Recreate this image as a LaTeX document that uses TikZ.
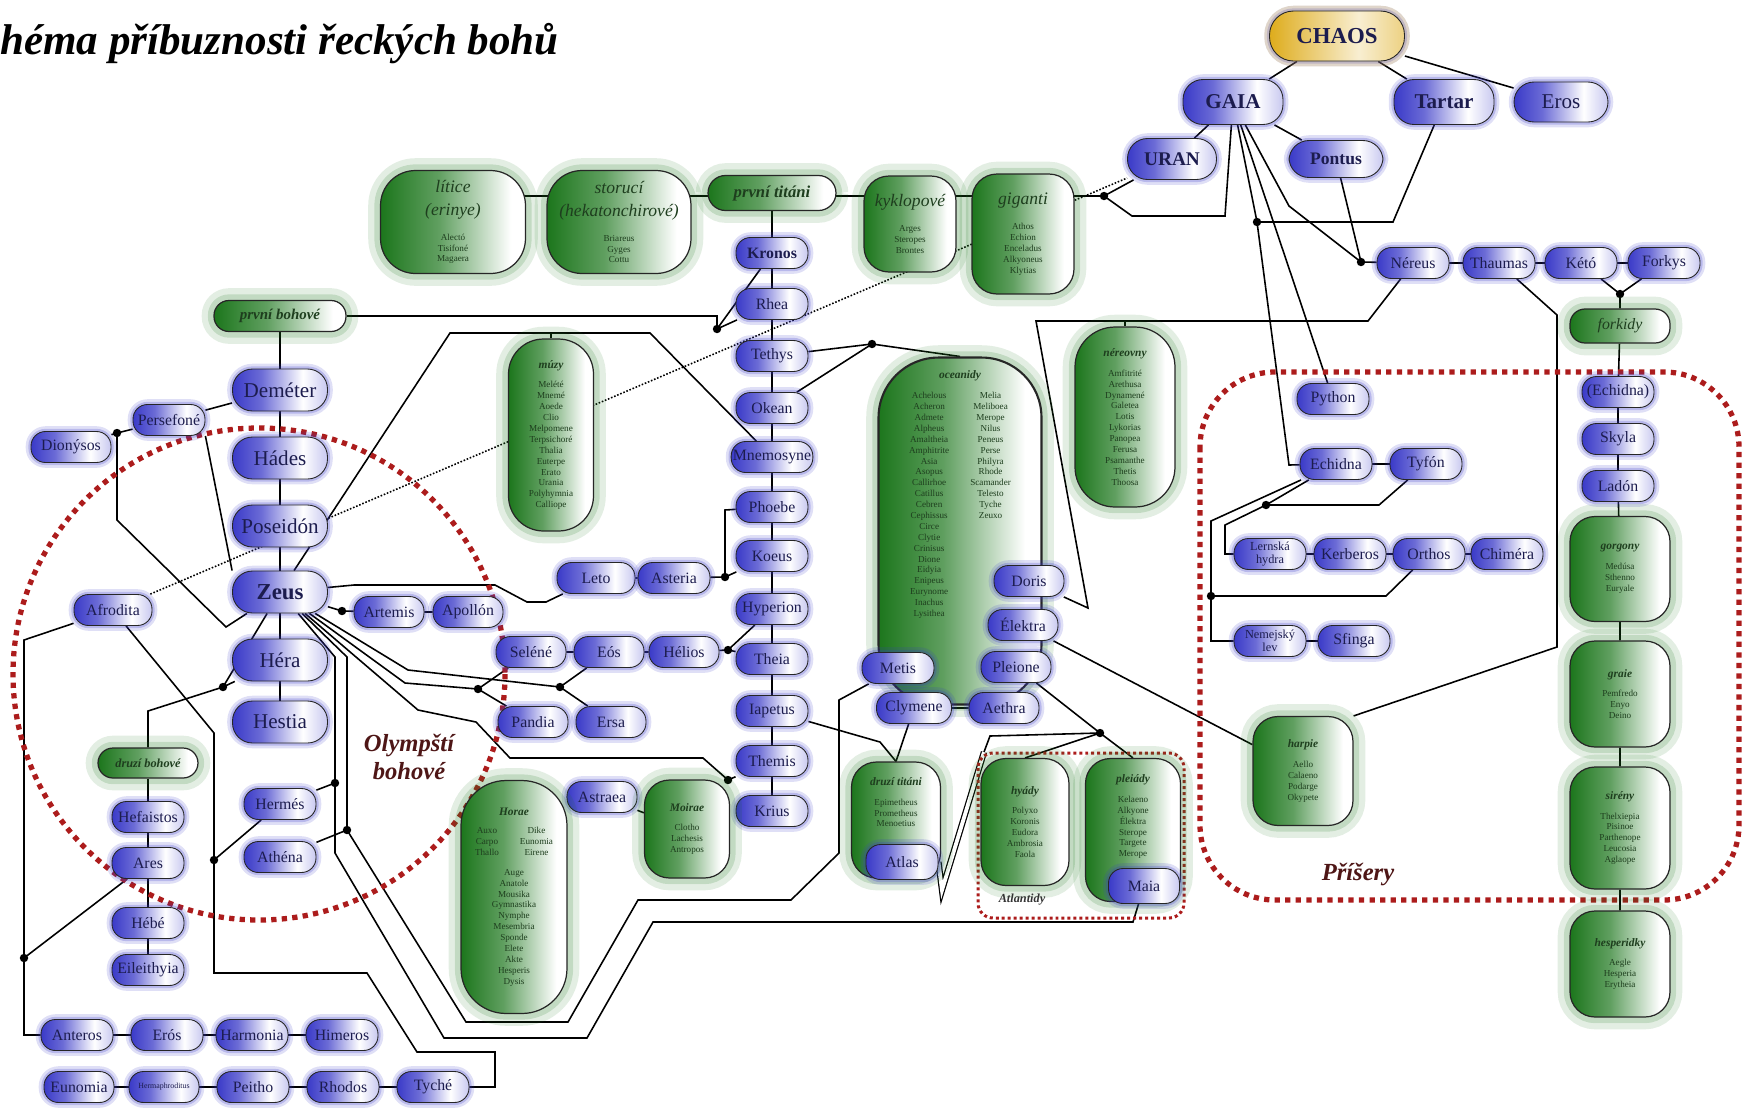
\documentclass[tikz,border=0pt]{standalone}
\usepackage{fontspec}
\setmainfont{Liberation Serif}
\usetikzlibrary{backgrounds}

\definecolor{godblue}{RGB}{58,58,200}
\definecolor{godlight}{RGB}{200,200,240}
\definecolor{godtext}{RGB}{28,28,78}
\definecolor{grpgreen}{RGB}{28,118,28}
\definecolor{grptext}{RGB}{30,62,30}
\definecolor{chaosgold}{RGB}{222,172,28}
\definecolor{olyred}{RGB}{172,28,28}
\definecolor{olytext}{RGB}{78,22,22}

\pgfdeclarehorizontalshading{godshade}{100bp}{color(0bp)=(godblue); color(25bp)=(godblue); color(40bp)=(godblue!75); color(62bp)=(white); color(75bp)=(godlight); color(100bp)=(godlight)}
\pgfdeclarehorizontalshading{grpshade}{100bp}{color(0bp)=(grpgreen); color(25bp)=(grpgreen); color(45bp)=(grpgreen!70); color(70bp)=(white); color(100bp)=(white)}
\pgfdeclarehorizontalshading{chaosshade}{100bp}{color(0bp)=(chaosgold); color(25bp)=(chaosgold); color(58bp)=(chaosgold!20); color(75bp)=(chaosgold!55); color(100bp)=(chaosgold!55)}

\newcommand{\grplist}{\fontsize{5.2}{6.2}\selectfont}
\newcommand{\grphead}[1]{{\fontsize{6.5}{7}\selectfont\bfseries\itshape #1}}
\newcommand{\grpbig}[1]{{\fontsize{10}{11}\selectfont\itshape #1}}

\tikzset{
  god/.style={draw=black!85, line width=0.5pt, shading=godshade, rounded corners=0.29cm,
    text=godtext, minimum width=1.44cm, minimum height=0.62cm, inner sep=1pt,
    font=\fontsize{9}{10}\selectfont,
    preaction={draw=godblue, line width=6pt, opacity=0.16},
    preaction={draw=godblue, line width=3pt, opacity=0.24}},
  bigod/.style={god, minimum width=1.9cm, minimum height=0.84cm, rounded corners=0.4cm,
    font=\fontsize{12}{13}\selectfont},
  grp/.style={draw=black!85, line width=0.7pt, shading=grpshade, rounded corners=0.5cm,
    text=grptext, align=center, inner sep=1pt, font=\grplist,
    preaction={draw=grpgreen, line width=14pt, opacity=0.12},
    preaction={draw=grpgreen, line width=7pt, opacity=0.17}},
  link/.style={draw=black, line width=0.9pt},
  family/.style={draw=olyred, line width=3pt, dash pattern=on 3pt off 3pt},
}

\begin{document}
\begin{tikzpicture}[x=0.02cm, y=-0.02cm]
  \useasboundingbox (0,0) rectangle (1742,1110);

  \node[anchor=base west, inner sep=0pt, font=\fontsize{24.5}{26}\selectfont\bfseries\itshape, text=black] (title) at (0,54) {héma příbuznosti řeckých bohů};

  % family frames
  \draw[family] (259,674) circle (246);
  \draw[family, rounded corners=1.5cm] (1200,372) rectangle (1739,900);
  \draw[draw=olyred, line width=1.7pt, dash pattern=on 1.7pt off 1.7pt, rounded corners=0.3cm] (978,753) rectangle (1184,918);

  % primordials
  \node[god, shading=chaosshade, minimum width=2.7cm, minimum height=1cm, rounded corners=0.48cm, font=\fontsize{13}{14}\selectfont\bfseries, preaction={draw=chaosgold, line width=6pt, opacity=0.2}] (chaos) at (1337,36) {CHAOS};
  \node[bigod, minimum width=2cm, minimum height=0.9cm, font=\fontsize{12}{13}\selectfont\bfseries] (gaia) at (1233,102) {GAIA};
  \node[bigod, minimum width=2cm, minimum height=0.9cm, font=\fontsize{12}{13}\selectfont\bfseries] (tartar) at (1444,102) {Tartar};
  \node[bigod, minimum width=1.88cm, minimum height=0.8cm] (eros) at (1561,102) {Eros};
  \node[bigod, minimum width=1.78cm, minimum height=0.82cm, font=\fontsize{11}{12}\selectfont\bfseries] (uran) at (1172,159) {URAN};
  \node[bigod, minimum width=1.88cm, minimum height=0.74cm, font=\fontsize{10}{11}\selectfont\bfseries] (pontus) at (1336,159) {Pontus};

  \node[god] (nereus) at (1413,263) {Néreus};
  \node[god] (thaumas) at (1499,263) {Thaumas};
  \node[god] (keto) at (1581,263) {Kétó};
  \node[god] (forkys) at (1664,263) {Forkys};
  \node[grp, minimum width=2cm, minimum height=0.68cm, rounded corners=0.3cm] (forkidy) at (1620,326) {\fontsize{9}{10}\selectfont\itshape forkidy};
  \node[god] (echidnaf) at (1618,392) {(Echidna)};
  \node[god] (skyla) at (1618,439) {Skyla};
  \node[god] (ladon) at (1618,486) {Ladón};
  \node[grp, minimum width=2cm, minimum height=2.1cm] (gorgony) at (1620,569) {\grphead{gorgony}\\[5pt]Medúsa\\Sthenno\\Euryale};
  \node[grp, minimum width=2cm, minimum height=2.12cm] (graie) at (1620,694) {\grphead{graie}\\[5pt]Pemfredo\\Enyo\\Deino};
  \node[grp, minimum width=2cm, minimum height=2.44cm] (sireny) at (1620,828) {\grphead{sirény}\\[5pt]Thelxiepia\\Pisinoe\\Parthenope\\Leucosia\\Aglaope};
  \node[grp, minimum width=2cm, minimum height=2.12cm] (hesperidky) at (1620,964) {\grphead{hesperidky}\\[5pt]Aegle\\Hesperia\\Erytheia};

  % monsters
  \node[god] (python) at (1333,399) {Python};
  \node[god] (echidna) at (1336,464) {Echidna};
  \node[god] (tyfon) at (1426,464) {Tyfón};
  \node[god, align=center, font=\fontsize{7}{7.5}\selectfont] (hydra) at (1270,554) {Lernská\\hydra};
  \node[god] (kerberos) at (1350,554) {Kerberos};
  \node[god] (orthos) at (1429,554) {Orthos};
  \node[god] (chimera) at (1507,554) {Chiméra};
  \node[god, align=center, font=\fontsize{7}{7.5}\selectfont] (nemejsky) at (1270,641) {Nemejský\\lev};
  \node[god] (sfinga) at (1354,641) {Sfinga};
  \node[grp, minimum width=2cm, minimum height=2.18cm] (harpie) at (1303,771) {\grphead{harpie}\\[5pt]Aello\\Calaeno\\Podarge\\Okypete};
  \node[font=\fontsize{14}{15}\selectfont\bfseries\itshape, text=olytext] (priserylabel) at (1358,874) {Příšery};

  % first generation
  \node[grp, minimum width=2.9cm, minimum height=2.06cm, rounded corners=0.7cm] (litice) at (453,222) {\grpbig{lítice}\\[5pt]\grpbig{(erinye)}\\[8pt]Alectó\\Tisifoné\\Magaera};
  \node[grp, minimum width=2.88cm, minimum height=2.06cm, rounded corners=0.7cm] (storuci) at (619,222) {\grpbig{storucí}\\[5pt]\grpbig{(hekatonchirové)}\\[8pt]Briareus\\Gyges\\Cottu};
  \node[grp, minimum width=2.56cm, minimum height=0.7cm, rounded corners=0.35cm] (prvnititani) at (772,193) {\fontsize{9.5}{10}\selectfont\bfseries\itshape první titáni};
  \node[grp, minimum width=1.84cm, minimum height=1.92cm] (kyklopove) at (910,224) {\grpbig{kyklopové}\\[8pt]Arges\\Steropes\\Brontes};
  \node[grp, minimum width=2.04cm, minimum height=2.4cm] (giganti) at (1023,234) {\grpbig{giganti}\\[8pt]Athos\\Echion\\Enceladus\\Alkyoneus\\Klytias};

  % titans
  \node[god, font=\fontsize{9}{10}\selectfont\bfseries] (kronos) at (772,253) {Kronos};
  \node[god] (rhea) at (772,304) {Rhea};
  \node[god] (tethys) at (772,356) {Tethys};
  \node[god] (okean) at (772,408) {Okean};
  \node[god] (mnemosyne) at (772,457) {Mnemosyne};
  \node[god] (phoebe) at (772,507) {Phoebe};
  \node[god] (koeus) at (772,556) {Koeus};
  \node[god] (hyperion) at (772,609) {Hyperion};
  \node[god] (theia) at (772,659) {Theia};
  \node[god] (iapetus) at (772,711) {Iapetus};
  \node[god] (themis) at (772,761) {Themis};
  \node[god] (krius) at (772,811) {Krius};

  % olympians
  \node[grp, minimum width=2.64cm, minimum height=0.62cm, rounded corners=0.3cm] (prvnibohove) at (280,316) {\fontsize{8.5}{9}\selectfont\bfseries\itshape první bohové};
  \node[bigod] (demeter) at (280,390) {Deméter};
  \node[bigod] (hades) at (280,458) {Hádes};
  \node[bigod] (poseidon) at (280,526) {Poseidón};
  \node[bigod, font=\fontsize{13}{14}\selectfont\bfseries] (zeus) at (280,592) {Zeus};
  \node[bigod] (hera) at (280,660) {Héra};
  \node[bigod] (hestia) at (280,722) {Hestia};
  \node[god, minimum width=1.44cm] (persefone) at (169,420) {Persefoné};
  \node[god, minimum width=1.6cm] (dionysos) at (71,447) {Dionýsos};
  \node[god, minimum width=1.56cm] (afrodita) at (113,610) {Afrodita};
  \node[god, minimum width=1.4cm] (artemis) at (389,612) {Artemis};
  \node[god, minimum width=1.4cm] (apollon) at (468,612) {Apollón};
  \node[grp, minimum width=2cm, minimum height=0.6cm, rounded corners=0.3cm] (druzibohove) at (148,763) {\fontsize{7}{8}\selectfont\bfseries\itshape druzí bohové};
  \node[god] (hefaistos) at (148,817) {Hefaistos};
  \node[god] (ares) at (148,863) {Ares};
  \node[god] (hebe) at (148,923) {Hébé};
  \node[god] (eileithyia) at (148,970) {Eileithyia};
  \node[god, minimum width=1.44cm] (hermes) at (280,804) {Hermés};
  \node[god, minimum width=1.44cm] (athena) at (280,857) {Athéna};
  \node[align=center, font=\fontsize{14}{16}\selectfont\bfseries\itshape, text=olytext] (olymplabel) at (409,757) {Olympští\\bohové};

  % children of the titans
  \node[god, minimum width=1.4cm] (selene) at (531,652) {Seléné};
  \node[god, minimum width=1.4cm] (eos) at (609,652) {Eós};
  \node[god, minimum width=1.4cm] (helios) at (684,652) {Hélios};
  \node[god, minimum width=1.4cm] (pandia) at (533,722) {Pandia};
  \node[god, minimum width=1.4cm] (ersa) at (611,722) {Ersa};
  \node[god, minimum width=1.56cm] (leto) at (596,578) {Leto};
  \node[god] (asteria) at (674,578) {Asteria};
  \node[god, minimum width=1.4cm] (astraea) at (602,797) {Astraea};
  \node[grp, minimum width=1.7cm, minimum height=1.96cm] (moirae) at (687,829) {\grphead{Moirae}\\[5pt]Clotho\\Lachesis\\Antropos};
  \node[grp, minimum width=2.12cm, minimum height=4.66cm, rounded corners=0.9cm] (horae) at (514,897) {\grphead{Horae}\\[5pt]\begin{tabular}{@{}c@{\hspace{12pt}}c@{}}Auxo&Dike\\Carpo&Eunomia\\Thallo&Eirene\end{tabular}\\[5pt]Auge\\Anatole\\Mousika\\Gymnastika\\Nymphe\\Mesembria\\Sponde\\Elete\\Akte\\Hesperis\\Dysis};
  \node[grp, minimum width=1.7cm, minimum height=3.84cm, rounded corners=0.7cm] (muzy) at (551,435) {\grphead{múzy}\\[5pt]Melété\\Mnemé\\Aoede\\Clio\\Melpomene\\Terpsichoré\\Thalia\\Euterpe\\Erato\\Urania\\Polyhymnia\\Calliope};
  \node[grp, line width=1.2pt, minimum width=3.26cm, minimum height=6.94cm, rounded corners=1.2cm] (oceanidy) at (960,531) {\grphead{oceanidy}\\[5pt]\begin{tabular}{@{}c@{\hspace{12pt}}c@{}}Achelous&Melia\\Acheron&Meliboea\\Admete&Merope\\Alpheus&Nilus\\Amaltheia&Peneus\\Amphitrite&Perse\\Asia&Philyra\\Asopus&Rhode\\Callirhoe&Scamander\\Catillus&Telesto\\Cebren&Tyche\\Cephissus&Zeuxo\\Circe&\\Clytie&\\Crinisus&\\Dione&\\Eidyia&\\Enipeus&\\Eurynome&\\Inachus&\\Lysithea&\end{tabular}\\[40pt]\mbox{}};
  \node[grp, minimum width=2cm, minimum height=3.6cm, rounded corners=0.8cm] (nereovny) at (1125,417) {\grphead{néreovny}\\[5pt]Amfitrité\\Arethusa\\Dynamené\\Galetea\\Lotis\\Lykorias\\Panopea\\Ferusa\\Psamanthe\\Thetis\\Thoosa};
  \node[god, minimum width=1.4cm] (doris) at (1029,581) {Doris};
  \node[god, minimum width=1.4cm] (elektra) at (1023,625) {Élektra};
  \node[god, minimum width=1.4cm] (pleione) at (1016,667) {Pleione};
  \node[god, minimum width=1.4cm] (aethra) at (1004,708) {Aethra};
  \node[god] (metis) at (898,668) {Metis};
  \node[god, minimum width=1.5cm] (clymene) at (914,708) {Clymene};
  \node[grp, minimum width=1.78cm, minimum height=2.32cm] (druzititani) at (896,820) {\grphead{druzí titáni}\\[5pt]Epimetheus\\Prometheus\\Menoetius\\[14pt]\mbox{}};
  \node[god, minimum width=1.44cm, minimum height=0.7cm] (atlas) at (902,862) {Atlas};
  \node[grp, minimum width=1.76cm, minimum height=2.54cm] (hyady) at (1025,822) {\grphead{hyády}\\[5pt]Polyxo\\Koronis\\Eudora\\Ambrosia\\Faola};
  \node[grp, minimum width=1.9cm, minimum height=2.86cm] (pleiady) at (1133,830) {\grphead{pleiády}\\[5pt]Kelaeno\\Alkyone\\Élektra\\Sterope\\Targete\\Merope\\[10pt]\mbox{}};
  \node[god, minimum width=1.42cm, minimum height=0.7cm] (maia) at (1144,886) {Maia};
  \node[font=\fontsize{7}{8}\selectfont\bfseries\itshape, text=black!80] (atlantidylabel) at (1022,900) {Atlantidy};

  % children of Afrodita
  \node[god] (anteros) at (77,1035) {Anteros};
  \node[god] (erosb) at (167,1035) {Erós};
  \node[god] (harmonia) at (252,1035) {Harmonia};
  \node[god] (himeros) at (342,1035) {Himeros};
  \node[god, minimum width=1.4cm] (eunomia) at (79,1087) {Eunomia};
  \node[god, minimum width=1.4cm, font=\fontsize{4.5}{5}\selectfont] (hermaphroditus) at (164,1087) {Hermaphroditus};
  \node[god] (peitho) at (253,1087) {Peitho};
  \node[god] (rhodos) at (343,1087) {Rhodos};
  \node[god] (tyche) at (433,1087) {Tyché};

  \begin{pgfonlayer}{background}
    \coordinate (d1) at (1104,196);
    \coordinate (d2) at (1257,222);
    \coordinate (d3) at (1361,262);
    \coordinate (d4) at (1620,294);
    \coordinate (dET) at (1266,505);
    \coordinate (dOS) at (1211,596);
    \coordinate (dPB) at (717,329);
    \coordinate (dPer) at (117,433);
    \coordinate (dAf) at (24,958);
    \coordinate (dZH) at (223,687);
    \coordinate (dArt) at (342,611);
    \coordinate (dLeto) at (725,577);
    \coordinate (dHel) at (728,650);
    \coordinate (dThem) at (728,780);
    \coordinate (dSel) at (478,689);
    \coordinate (dErs) at (560,687);
    \coordinate (dHer) at (335,783);
    \coordinate (dAth) at (347,830);
    \coordinate (dHA) at (214,860);
    \coordinate (dOc) at (872,344);
    \coordinate (dPl) at (1100,733);

    % primordial links
    \draw[link] (chaos) -- (gaia);
    \draw[link] (chaos) -- (tartar);
    \draw[link] (chaos) -- (eros);
    \draw[link] (gaia) -- (uran);
    \draw[link] (gaia) -- (pontus);
    \draw[link] (litice |- d1) -- (d1);
    \draw[link] (uran) -- (d1);
    \draw[link] (d1) -- (1132,216) -- (1225,216) -- (gaia);
    \draw[link] (tartar) -- (1393,222) -- (d2);
    \draw[link] (gaia) -- (d2) -- (1289,465) -- (echidna);
    \draw[link] (gaia) -- (python);
    \draw[link] (gaia) -- (1289,206) -- (d3);
    \draw[link] (pontus) -- (d3) -- (nereus);
    \draw[link] (nereus) -- (thaumas) -- (keto) -- (forkys);
    \draw[link] (keto) -- (d4) -- (forkys);
    \draw[link] (d4) -- (forkidy) -- (echidnaf) -- (skyla) -- (ladon) -- (gorgony) -- (graie) -- (sireny) -- (hesperidky);
    \draw[link] (thaumas) -- (1557,315) -- (1557,647) -- (harpie.north east);
    \draw[link] (elektra) -- (harpie);
    \draw[link] (nereus) -- (1368,321) -- (1036,321) -- (1088,608) -- (doris);
    \draw[link] (nereovny.north) -- (1125,321);

    % monsters
    \draw[link] (echidna) -- (tyfon);
    \draw[link] (tyfon) -- (1379,505) -- (dET);
    \draw[link] (echidna) -- (dET) -- (1225,525) -- (1225,554) -- (hydra);
    \draw[link] (echidna) -- (1211,521) -- (dOS) -- (1211,641) -- (nemejsky);
    \draw[link] (hydra) -- (kerberos) -- (orthos) -- (chimera);
    \draw[link] (dOS) -- (1386,596) -- (orthos);
    \draw[link] (nemejsky) -- (sfinga);

    % titans
    \draw[link] (prvnititani) -- (kronos) -- (rhea) -- (tethys) -- (okean) -- (mnemosyne) -- (phoebe) -- (koeus) -- (hyperion) -- (theia) -- (iapetus) -- (themis) -- (krius);
    \draw[link] (prvnibohove) -- (prvnibohove -| dPB) -- (dPB);
    \draw[link] (kronos) -- (dPB) -- (rhea);
    \draw[link] (tethys) -- (dOc) -- (oceanidy.north);
    \draw[link] (okean) -- (dOc);
    \draw[link] (phoebe) -- (725,510) -- (dLeto) -- (koeus);
    \draw[link] (dLeto) -- (asteria) -- (leto);
    \draw[link] (hyperion) -- (dHel) -- (theia);
    \draw[link] (dHel) -- (helios) -- (eos) -- (selene);
    \draw[link] (themis) -- (dThem) -- (moirae.north east);
    \draw[link] (moirae) -- (astraea) -- (horae.east |- astraea);
    \draw[link] (iapetus) -- (880,742) -- (druzititani.north);
    \draw[link] (clymene) -- (druzititani.north);
    \draw[link] (doris) -- (elektra) -- (pleione) -- (aethra) -- (clymene);
    \draw[link] (metis) -- (clymene);
    \draw[link] (pleione) -- (dPl) -- (pleiady.north);
    \draw[link] (dPl) -- (hyady.north);
    \draw[line width=0.7pt, double=white, double distance=2.2pt] (atlas.east) -- (942,890) -- (984,752);
    \draw[link] (984,752) -- (990,736) -- (dPl);

    % olympians
    \draw[link] (prvnibohove) -- (demeter) -- (hades) -- (poseidon) -- (zeus) -- (hera) -- (hestia);
    \draw[link] (demeter) -- (persefone);
    \draw[link] (dionysos) -- (dPer) -- (persefone);
    \draw[link] (dPer) -- (117,520) -- (226,627) -- (zeus);
    \draw[link] (persefone.south east) -- (zeus.north west);
    \draw[link] (zeus) -- (dZH) -- (hera);
    \draw[link] (dZH) -- (148,711) -- (druzibohove);
    \draw[link] (druzibohove) -- (hefaistos) -- (ares) -- (hebe) -- (eileithyia);
    \draw[link] (zeus) -- (dArt) -- (artemis) -- (apollon);
    \draw[link] (zeus) -- (354,585) -- (495,585) -- (527,602) -- (546,602) -- (leto);
    \draw[link] (zeus) -- (408,670) -- (dErs) -- (eos);
    \draw[link] (dErs) -- (ersa);
    \draw[link] (zeus) -- (405,683) -- (dSel) -- (selene);
    \draw[link] (dSel) -- (pandia);
    \draw[link] (zeus) -- (418,710) -- (476,722) -- (510,758) -- (703,758) -- (dThem);
    \draw[link] (zeus) -- (450,333) -- (650,333) -- (mnemosyne);
    \draw[link] (muzy.north) -- (551,333);
    \draw[link] (zeus) -- (335,657) -- (dHer) -- (hermes);
    \draw[link] (dHer) -- (335,853) -- (444,1038) -- (587,1038) -- (653,922) -- (1133,922) -- (maia);
    \draw[link] (zeus) -- (347,657) -- (dAth) -- (athena);
    \draw[link] (dAth) -- (466,1022) -- (568,1022) -- (638,900) -- (791,900) -- (839,853) -- (839,700) -- (metis);
    \draw[link] (afrodita) -- (24,640) -- (24,1035) -- (anteros);
    \draw[link] (dAf) -- (ares);
    \draw[link] (anteros) -- (erosb) -- (harmonia) -- (himeros);
    \draw[link] (eunomia) -- (hermaphroditus) -- (peitho) -- (rhodos) -- (tyche);
    \draw[link] (afrodita) -- (214,733) -- (dHA) -- (214,973) -- (367,973) -- (417,1052) -- (495,1052) -- (495,1087) -- (tyche);
    \draw[link] (dHA) -- (hermes);
    \draw[link, densely dotted] (afrodita) -- (uran);

    \foreach \d in {d1,d2,d3,d4,dET,dOS,dPB,dPer,dAf,dZH,dArt,dLeto,dHel,dThem,dSel,dErs,dHer,dAth,dHA,dOc,dPl}
      \fill (\d) circle (2.4pt);
  \end{pgfonlayer}
\end{tikzpicture}
\end{document}
